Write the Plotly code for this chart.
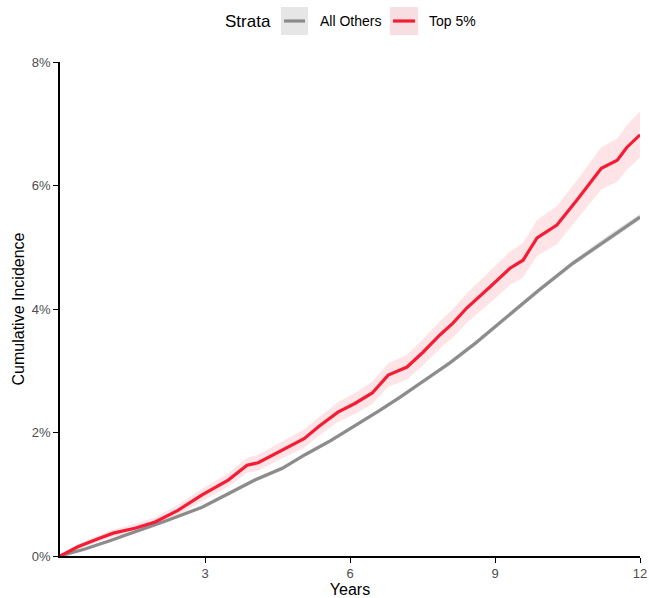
import plotly.graph_objects as go

# ---- data (cumulative incidence, %) ----
years_top = [0, 0.37, 0.79, 1.1, 1.55, 1.97, 2.44, 2.94, 3.48, 3.87, 4.1, 4.72, 5.05, 5.36,
             5.75, 6.1, 6.46, 6.79, 7.18, 7.51, 7.86, 8.13, 8.42, 8.9, 9.31, 9.58, 9.87,
             10.28, 10.7, 11.2, 11.53, 11.73, 12.0]
ci_top = [0, 0.15, 0.28, 0.37, 0.45, 0.55, 0.74, 0.99, 1.23, 1.47, 1.51, 1.77, 1.90, 2.10,
          2.33, 2.47, 2.64, 2.93, 3.06, 3.30, 3.58, 3.77, 4.02, 4.36, 4.66, 4.79, 5.15,
          5.36, 5.77, 6.28, 6.41, 6.62, 6.82]
lo_top = [0, 0.11, 0.23, 0.31, 0.38, 0.47, 0.65, 0.89, 1.12, 1.35, 1.38, 1.63, 1.75, 1.95,
          2.17, 2.30, 2.46, 2.74, 2.86, 3.09, 3.36, 3.54, 3.78, 4.10, 4.39, 4.51, 4.86,
          5.05, 5.45, 5.94, 6.06, 6.26, 6.45]
hi_top = [0, 0.19, 0.33, 0.43, 0.52, 0.63, 0.83, 1.09, 1.34, 1.59, 1.64, 1.91, 2.05, 2.25,
          2.49, 2.64, 2.82, 3.12, 3.26, 3.51, 3.80, 4.00, 4.26, 4.62, 4.93, 5.07, 5.44,
          5.67, 6.09, 6.62, 6.76, 6.98, 7.20]

years_oth = [0, 0.5, 1.0, 1.55, 2.2, 2.94, 3.5, 4.03, 4.6, 5.07, 5.6, 6.06, 6.6, 7.03,
             7.5, 8.07, 8.6, 9.25, 9.9, 10.61, 11.3, 12.0]
ci_oth = [0, 0.11, 0.24, 0.39, 0.57, 0.79, 1.01, 1.23, 1.42, 1.64, 1.87, 2.09, 2.35, 2.57,
          2.82, 3.13, 3.45, 3.87, 4.30, 4.74, 5.12, 5.49]
lo_oth = [0, 0.10, 0.22, 0.37, 0.55, 0.77, 0.98, 1.20, 1.39, 1.61, 1.84, 2.06, 2.32, 2.54,
          2.79, 3.09, 3.41, 3.83, 4.26, 4.70, 5.07, 5.44]
hi_oth = [0, 0.12, 0.26, 0.41, 0.59, 0.81, 1.04, 1.26, 1.45, 1.67, 1.90, 2.12, 2.38, 2.60,
          2.85, 3.17, 3.49, 3.91, 4.34, 4.78, 5.17, 5.54]

x_ticks = [3, 6, 9, 12]
y_ticks = [0, 2, 4, 6, 8]
y_labels = ["0%", "2%", "4%", "6%", "8%"]

RED = "#F51D35"
GRAY = "#8C8C8C"
RED_FILL = "rgba(245,29,53,0.12)"
GRAY_FILL = "rgba(140,140,140,0.25)"

fig = go.Figure()

def band(xs, lo, hi, fill):
    fig.add_trace(go.Scatter(x=xs, y=lo, mode="lines", line=dict(width=0),
                             hoverinfo="skip", showlegend=False))
    fig.add_trace(go.Scatter(x=xs, y=hi, mode="lines", line=dict(width=0),
                             fill="tonexty", fillcolor=fill, hoverinfo="skip",
                             showlegend=False))

band(years_oth, lo_oth, hi_oth, GRAY_FILL)
band(years_top, lo_top, hi_top, RED_FILL)
fig.add_trace(go.Scatter(x=years_oth, y=ci_oth, mode="lines", name="All Others",
                         line=dict(color=GRAY, width=3.2), showlegend=False))
fig.add_trace(go.Scatter(x=years_top, y=ci_top, mode="lines", name="Top 5%",
                         line=dict(color=RED, width=3.2), showlegend=False))

# plot area in page pixels: left 60, right 640, top 62, bottom 556
W, H = 649, 598
L, R, T, B = 60, 640, 62, 556
def px(xp):
    return (xp - L) / (R - L)
def py(yp):
    return (B - yp) / (B - T)

shapes = []
annotations = []
annotations.append(dict(x=px(273), y=py(21), xref="paper", yref="paper", text="Strata",
                        showarrow=False, xanchor="right", yanchor="middle",
                        font=dict(size=17, color="black")))
for (x0, x1, fill, col, lab, tx) in [(281, 308, "#E6E6E6", GRAY, "All Others", 318),
                                      (390, 418, "#F6DEE1", RED, "Top 5%", 427)]:
    shapes.append(dict(type="rect", xref="paper", yref="paper", x0=px(x0), x1=px(x1),
                       y0=py(35), y1=py(7), fillcolor=fill, line=dict(width=0), layer="above"))
    shapes.append(dict(type="line", xref="paper", yref="paper", x0=px(x0 + 3), x1=px(x1 - 3),
                       y0=py(21), y1=py(21), line=dict(color=col, width=3.2), layer="above"))
    annotations.append(dict(x=px(tx), y=py(21), xref="paper", yref="paper", text=lab,
                            showarrow=False, xanchor="left", yanchor="middle",
                            font=dict(size=14, color="black")))

fig.update_layout(
    width=W, height=H,
    margin=dict(l=L, r=W - R, t=T, b=H - B, autoexpand=False),
    paper_bgcolor="white", plot_bgcolor="white",
    font=dict(family="Liberation Sans, Arial, sans-serif"),
    shapes=shapes, annotations=annotations,
    showlegend=False,
)
fig.update_xaxes(range=[0, 12], tickvals=x_ticks, ticktext=[str(v) for v in x_ticks],
                 automargin=False, ticklabeloverflow="allow",
                 showgrid=False, zeroline=False, showline=True, linecolor="black", linewidth=1.6,
                 ticks="outside", ticklen=5, tickwidth=1.4, tickcolor="black",
                 tickfont=dict(size=13, color="#4D4D4D"),
                 title=dict(text="Years", font=dict(size=16, color="black"), standoff=4))
fig.update_yaxes(range=[0, 8], tickvals=y_ticks, ticktext=y_labels,
                 automargin=False, ticklabeloverflow="allow",
                 showgrid=False, zeroline=False, showline=True, linecolor="black", linewidth=1.6,
                 ticks="outside", ticklen=5, tickwidth=1.4, tickcolor="black",
                 tickfont=dict(size=13, color="#4D4D4D"),
                 title=dict(text="Cumulative Incidence", font=dict(size=16, color="black"), standoff=3))

fig.write_html("out.html",
               config={"displayModeBar": False},
               post_script="document.body.style.margin='0';document.body.style.overflow='hidden';")
